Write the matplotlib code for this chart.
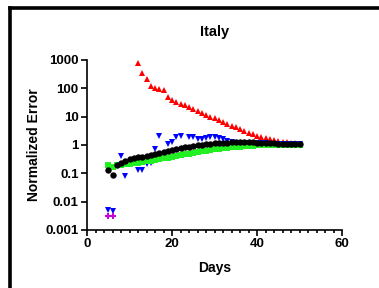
import matplotlib
matplotlib.use("Agg")
from matplotlib import pyplot as plt
from matplotlib.lines import Line2D
from matplotlib.ticker import FixedLocator, MultipleLocator, NullLocator

plt.rcParams["font.family"] = ["Liberation Sans", "DejaVu Sans"]
plt.rcParams["font.weight"] = "bold"

# red up-triangles
red_days = list(range(12, 51))
red_vals = [780, 340, 210, 120, 105, 95, 85, 48, 38, 33, 28, 25, 22, 19, 16, 13.5, 11.5,
            10, 8.8, 7.6, 6.5, 5.6, 4.8, 4.2, 3.6, 3.1, 2.7, 2.4, 2.15, 1.95, 1.8, 1.65,
            1.5, 1.4, 1.32, 1.25, 1.2, 1.15, 1.1]

# blue down-triangles
blue_days = [5, 6, 8, 9, 12, 13, 14, 15, 16, 17, 19, 20, 21, 22, 24, 25, 26, 27, 28, 29,
             30, 31, 32, 33, 34, 35, 36, 37, 38, 39, 40, 41, 42, 43, 44, 45, 46, 47, 48, 49, 50]
blue_vals = [0.005, 0.0045, 0.4, 0.078, 0.13, 0.13, 0.21, 0.24, 0.7, 2.1, 1.1, 1.3, 1.95,
             2.0, 1.95, 1.9, 1.6, 1.6, 1.7, 1.9, 1.9, 1.8, 1.6, 1.35, 1.25, 1.22, 1.2, 1.2,
             1.2, 1.18, 1.16, 1.15, 1.13, 1.12, 1.1, 1.09, 1.08, 1.07, 1.06, 1.05, 1.05]

# green squares
green_days = list(range(5, 51))
green_vals = [0.2, 0.17, 0.19, 0.2, 0.21, 0.22, 0.23, 0.24, 0.25, 0.27, 0.28, 0.3, 0.32,
              0.34, 0.36, 0.39, 0.41, 0.44, 0.47, 0.5, 0.53, 0.56, 0.59, 0.62, 0.66, 0.7,
              0.73, 0.76, 0.79, 0.82, 0.85, 0.88, 0.9, 0.92, 0.94, 0.96, 0.98, 0.99, 1.0,
              1.01, 1.02, 1.02, 1.02, 1.01, 1.01, 1.0]

# black circles
black_days = list(range(5, 51))
black_vals = [0.135, 0.085, 0.2, 0.24, 0.28, 0.33, 0.36, 0.37, 0.39, 0.41, 0.44, 0.48, 0.53,
              0.57, 0.62, 0.67, 0.72, 0.77, 0.82, 0.87, 0.92, 0.97, 1.02, 1.07, 1.12, 1.15,
              1.18, 1.2, 1.22, 1.24, 1.25, 1.25, 1.25, 1.24, 1.23, 1.21, 1.19, 1.17, 1.15,
              1.13, 1.11, 1.09, 1.08, 1.07, 1.06, 1.05]

# magenta
mag_days = [5, 6]
mag_vals = [0.003, 0.0031]

fig = plt.figure(figsize=(3.79, 2.88), dpi=100)
ax = fig.add_axes([0.2296, 0.2014, 0.6728, 0.5903])

ms = 4.6
ax.plot(red_days, red_vals, "^", color="#ff0000", ms=ms, mew=0, zorder=3)
ax.plot(blue_days, blue_vals, "v", color="#0000ff", ms=ms, mew=0, zorder=3)
ax.plot(green_days, green_vals, "s", color="#22f022", ms=4.2, mew=0, zorder=4)
ax.plot(black_days, black_vals, "o", color="black", ms=ms, mew=0, zorder=5)
ax.plot(mag_days, mag_vals, "P", color="#cc00dd", ms=4.0, mew=0, zorder=6)

ax.set_yscale("log")
ax.set_ylim(0.001, 1000)
ax.set_xlim(0, 60)
ax.yaxis.set_major_locator(FixedLocator([0.001, 0.01, 0.1, 1, 10, 100, 1000]))
ax.yaxis.set_minor_locator(NullLocator())
ax.set_yticklabels(["0.001", "0.01", "0.1", "1", "10", "100", "1000"])
ax.xaxis.set_major_locator(MultipleLocator(20))
ax.xaxis.set_minor_locator(MultipleLocator(2))

for s in ["top", "right"]:
    ax.spines[s].set_visible(False)
for s in ["left", "bottom"]:
    ax.spines[s].set_linewidth(1.2)
ax.tick_params(which="major", length=4, width=1.2, labelsize=9.5, pad=2)
ax.tick_params(which="minor", length=2.5, width=1.2)

ax.set_title("Italy", fontsize=10.5, fontweight="bold", pad=17)
ax.set_xlabel("Days", fontsize=10, fontweight="bold", labelpad=8)
ax.set_ylabel("Normalized Error", fontsize=10, fontweight="bold", labelpad=3)

# frame lines
fig.add_artist(Line2D([9.5 / 379, 9.5 / 379], [0, 1 - 7.5 / 288], color="black", lw=2.6,
                      transform=fig.transFigure, solid_capstyle="projecting"))
fig.add_artist(Line2D([9.5 / 379, 1], [1 - 7.5 / 288, 1 - 7.5 / 288], color="black", lw=2.6,
                      transform=fig.transFigure, solid_capstyle="projecting"))

fig.savefig("out.png", dpi=100)
